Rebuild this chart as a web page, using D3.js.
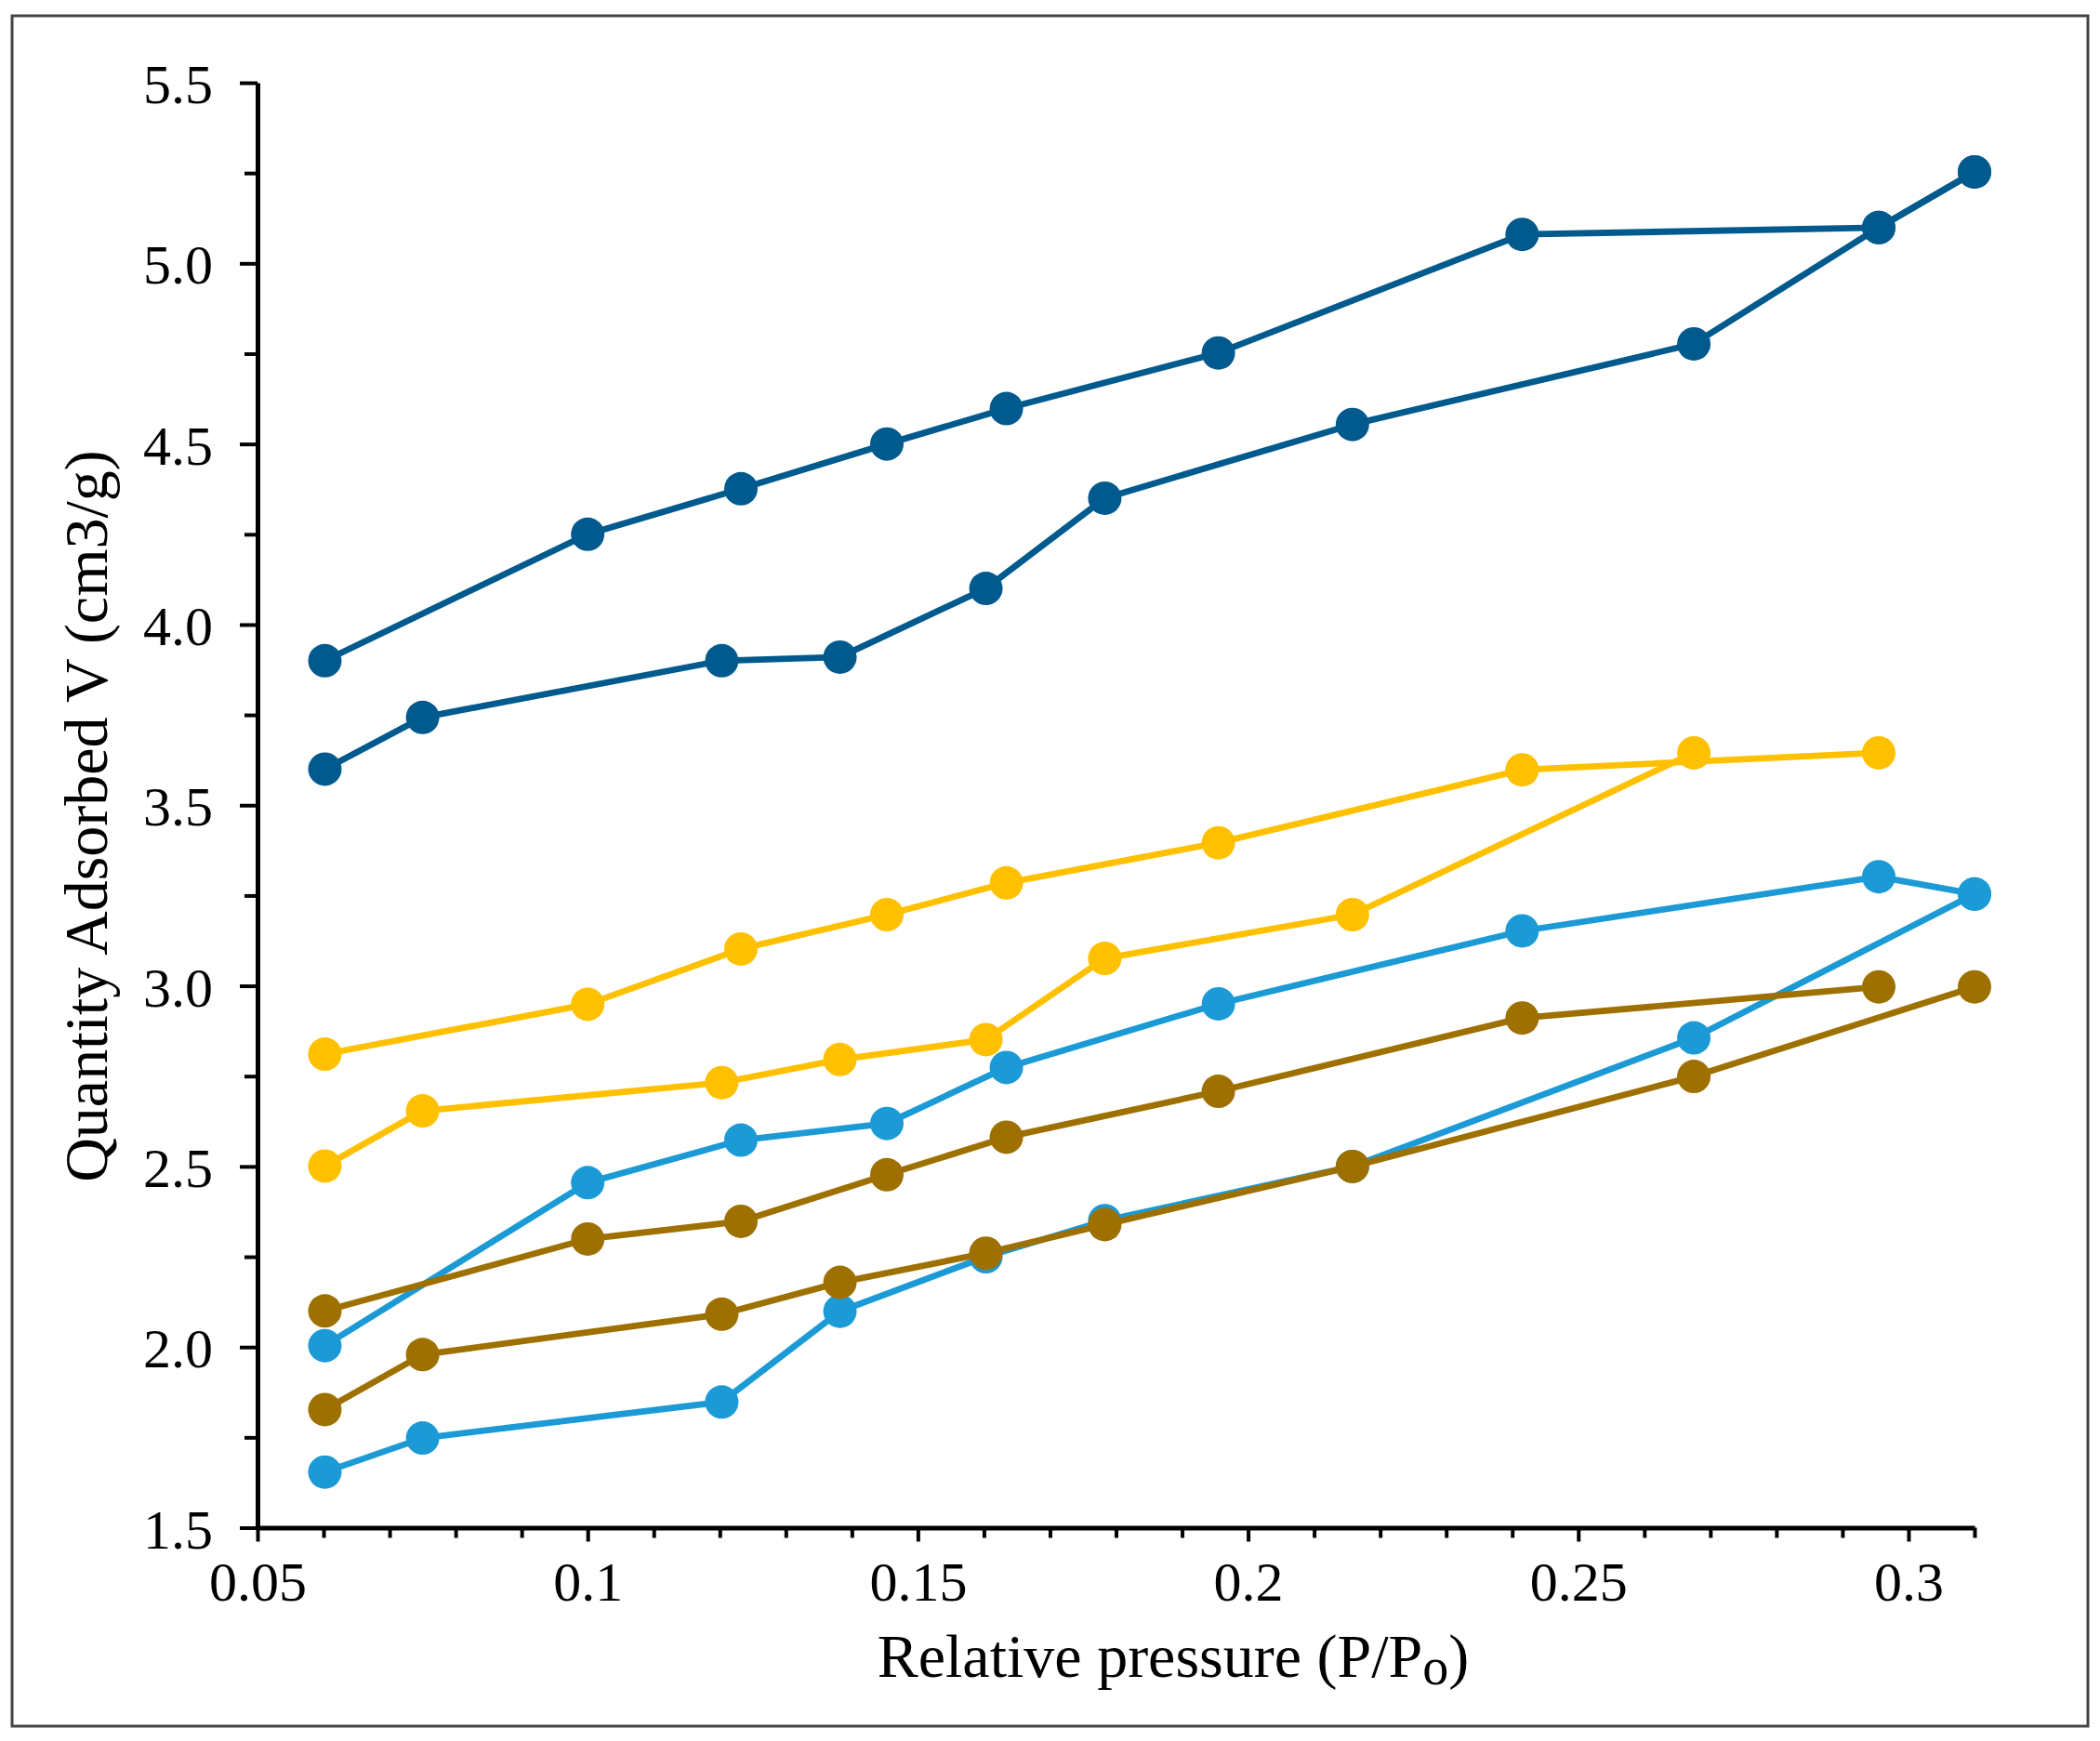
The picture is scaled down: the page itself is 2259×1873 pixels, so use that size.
<html>
  <head>
    <title>Quantity adsorbed vs relative pressure</title>
    <script src="https://cdn.jsdelivr.net/npm/d3@7"></script>
    <style>
     body { margin: 0; background: #fff; }
     .frame { fill: none; stroke: #444; stroke-width: 3px; }
     .axis path, .axis line { stroke: #000; }
     .axis path { stroke-width: 5px; }
     .axis line { stroke-width: 4px; }
     .axis text { font-family: "Liberation Serif", "Times New Roman", serif; font-size: 60px; fill: #000; }
     .title { font-family: "Liberation Serif", "Times New Roman", serif; font-size: 66px; fill: #000; }
     .series path { fill: none; stroke-width: 6.8px; stroke-linejoin: round; }
    </style>
  </head>
  <body>
    <svg id="chart"></svg>
    <script>
     // relative pressure steps, adsorption branch then desorption branch
     var xAds = [0.0602, 0.075, 0.1203, 0.1382, 0.1603, 0.1783, 0.2158, 0.2675, 0.2955, 0.31];
     var xDes = [0.31, 0.2955, 0.2415, 0.1955, 0.1634, 0.1453, 0.1232, 0.1, 0.0602];

     // quantity adsorbed (cm3/g), null where a sample has no point
     var darkAds   = [3.60, 3.743, 3.90, 3.91, 4.10, 4.35, 4.554, 4.777, 5.099, 5.253];
     var darkDes   = [5.253, 5.099, 5.08, 4.752, 4.598, 4.50, 4.376, 4.25, 3.90];
     var yellowAds = [2.501, 2.654, 2.732, 2.796, 2.851, 3.076, 3.197, 3.645, null, null];
     var yellowDes = [null, 3.645, 3.598, 3.396, 3.285, 3.197, 3.102, 2.949, 2.811];
     var lightAds  = [1.654, 1.748, 1.848, 2.099, 2.25, 2.35, 2.50, 2.856, null, 3.254];
     var lightDes  = [3.254, 3.302, 3.152, 2.950, 2.774, 2.619, 2.573, 2.455, 2.004];
     var brownAds  = [1.827, 1.979, 2.091, 2.179, 2.260, 2.339, 2.500, 2.749, null, 2.997];
     var brownDes  = [null, 2.997, 2.911, 2.708, 2.581, 2.477, 2.348, 2.299, 2.100];

     var seriesColors = ["#005a8e", "#ffc000", "#1b9ad6", "#9e7000"];

     var xTicks = d3.range(5, 32).map(function(d) { return d / 100; });
     var xLabels = {"0.05": "0.05", "0.1": "0.1", "0.15": "0.15", "0.2": "0.2", "0.25": "0.25", "0.3": "0.3"};
     var yTicks = d3.range(6, 23).map(function(d) { return d / 4; });

     var width = 2259, height = 1873;

     var svg = d3.select("#chart")
                 .attr("width", width)
                 .attr("height", height);

     svg.append("rect")
        .attr("class", "frame")
        .attr("x", 13).attr("y", 17)
        .attr("width", 2233).attr("height", 1840);

     var x = d3.scaleLinear().domain([0.05, 0.31]).range([277, 2124]);
     var y = d3.scaleLinear().domain([1.5, 5.5]).range([1643.5, 89]);

     var isMajorX = function(d) { return Math.abs(d * 20 - Math.round(d * 20)) < 1e-6; };
     var isMajorY = function(d) { return Math.abs(d * 2 - Math.round(d * 2)) < 1e-6; };

     var xAxis = svg.append("g")
                    .attr("class", "axis")
                    .attr("transform", "translate(0," + y(1.5) + ")")
                    .call(d3.axisBottom(x)
                            .tickValues(xTicks)
                            .tickSizeOuter(0)
                            .tickFormat(function(d) { return xLabels[String(+d.toFixed(2))] || ""; }));
     xAxis.selectAll(".tick line").attr("y2", function(d) { return isMajorX(d) ? 15 : 11; });
     xAxis.selectAll(".tick text").attr("y", 78).attr("dy", null);

     var yAxis = svg.append("g")
                    .attr("class", "axis")
                    .attr("transform", "translate(" + x(0.05) + ",0)")
                    .call(d3.axisLeft(y)
                            .tickValues(yTicks)
                            .tickSizeOuter(0)
                            .tickFormat(function(d) { return isMajorY(d) ? d3.format(".1f")(d) : ""; }));
     yAxis.selectAll(".tick line").attr("x2", function(d) { return isMajorY(d) ? -19 : -14; });
     yAxis.selectAll(".tick text").attr("x", -48).attr("dy", "0.36em");
     xAxis.attr("font-family", null).attr("font-size", null);
     yAxis.attr("font-family", null).attr("font-size", null);

     var branch = function(xs, ys) {
       return xs.map(function(v, i) { return [v, ys[i]]; })
                .filter(function(p) { return p[1] != null; });
     };

     var series = [
       [branch(xAds, darkAds), branch(xDes, darkDes)],
       [branch(xAds, yellowAds), branch(xDes, yellowDes)],
       [branch(xAds, lightAds), branch(xDes, lightDes)],
       [branch(xAds, brownAds), branch(xDes, brownDes)]
     ];

     var line = d3.line()
                  .x(function(p) { return x(p[0]); })
                  .y(function(p) { return y(p[1]); });

     series.forEach(function(branches, i) {
       var g = svg.append("g").attr("class", "series");
       branches.forEach(function(pts) {
         g.append("path")
          .datum(pts)
          .attr("d", line)
          .attr("stroke", seriesColors[i]);
       });
       branches.forEach(function(pts) {
         g.selectAll(null)
          .data(pts)
          .enter().append("circle")
          .attr("cx", function(p) { return x(p[0]); })
          .attr("cy", function(p) { return y(p[1]); })
          .attr("r", 18)
          .attr("fill", seriesColors[i]);
       });
     });

     var xTitle = svg.append("text")
                     .attr("class", "title")
                     .attr("x", 1262)
                     .attr("y", 1804)
                     .attr("text-anchor", "middle");
     xTitle.append("tspan").text("Relative pressure (P/P");
     xTitle.append("tspan").attr("dy", 8).attr("font-size", 56).text("o");
     xTitle.append("tspan").attr("dy", -8).text(")");

     svg.append("text")
        .attr("class", "title")
        .attr("transform", "translate(115,878) rotate(-90)")
        .attr("text-anchor", "middle")
        .text("Quantity Adsorbed V (cm3/g)");
    </script>
  </body>
</html>
